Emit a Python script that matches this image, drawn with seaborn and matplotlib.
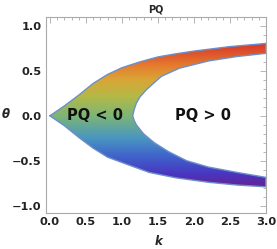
import numpy as np
import pandas as pd
import matplotlib
matplotlib.use("Agg")
import matplotlib.pyplot as plt
import seaborn as sns
from matplotlib.path import Path
from matplotlib.patches import PathPatch
from matplotlib.colors import LinearSegmentedColormap
from matplotlib.ticker import MultipleLocator

# Boundary of the PQ < 0 region
k_outer_up = [0.0, 0.2, 0.4, 0.6, 0.8, 1.0, 1.25, 1.5, 1.75, 2.0, 2.5, 3.0]
th_outer_up = [0.0, 0.11, 0.23, 0.36, 0.46, 0.535, 0.60, 0.655, 0.69, 0.72, 0.77, 0.805]
k_inner_up = [1.15, 1.17, 1.2, 1.25, 1.34, 1.45, 1.55, 1.8, 2.2, 2.6, 3.0]
th_inner_up = [0.0, 0.07, 0.14, 0.21, 0.29, 0.37, 0.44, 0.53, 0.61, 0.66, 0.695]
k_inner_lo = [1.15, 1.17, 1.2, 1.3, 1.45, 1.65, 1.9, 2.2, 2.6, 3.0]
th_inner_lo = [0.0, -0.05, -0.1, -0.2, -0.3, -0.4, -0.5, -0.57, -0.63, -0.685]
k_outer_lo = [0.0, 0.2, 0.4, 0.6, 0.8, 1.07, 1.38, 1.75, 2.21, 2.6, 3.0]
th_outer_lo = [0.0, -0.11, -0.24, -0.36, -0.46, -0.54, -0.63, -0.69, -0.74, -0.77, -0.79]

title = "PQ"
label_neg = "PQ < 0"
label_pos = "PQ > 0"
xticks = [0.0, 0.5, 1.0, 1.5, 2.0, 2.5, 3.0]
yticks = [-1.0, -0.5, 0.0, 0.5, 1.0]

sns.set_style("white")
plt.rcParams['font.family'] = ['DejaVu Sans']

fig = plt.figure(figsize=(2.77, 2.49), dpi=100)
ax = fig.add_axes([0.166, 0.145, 0.794, 0.787])

# polygon boundary
bx = (k_outer_up + [k_inner_up[-1]] + k_inner_up[::-1] + k_inner_lo[1:] +
      [k_outer_lo[-1]] + k_outer_lo[::-1])
by = (th_outer_up + [th_inner_up[-1]] + th_inner_up[::-1] + th_inner_lo[1:] +
      [th_outer_lo[-1]] + th_outer_lo[::-1])
verts = np.column_stack([bx, by])
path = Path(verts, closed=False)
patch = PathPatch(path, facecolor='none', edgecolor='none')
ax.add_patch(patch)

cols = [(0.0, '#6b1f8c'), (0.10, '#4a35c0'), (0.22, '#3f62cc'),
        (0.35, '#4a96c0'), (0.50, '#7cb578'), (0.63, '#b2b948'),
        (0.75, '#d9a636'), (0.84, '#e57f2e'), (1.0, '#d9342a')]
cmap = LinearSegmentedColormap.from_list('rb', cols)
grad = np.linspace(0, 1, 256).reshape(-1, 1)
im = ax.imshow(grad, cmap=cmap, origin='lower', aspect='auto',
               extent=[0, 3.0, -0.81, 0.81], interpolation='bilinear', zorder=1)
im.set_clip_path(patch)

df = pd.DataFrame({'k': bx, 'theta': by})
sns.lineplot(data=df, x='k', y='theta', sort=False, estimator=None,
             color='#6d8fc9', lw=1.0, ax=ax, zorder=2)

ax.set_xlim(-0.055, 3.0)
ax.set_ylim(-1.08, 1.1)
ax.set_xticks(xticks)
ax.set_yticks(yticks)
ax.set_xticklabels([f"{t:.1f}" for t in xticks])
ax.set_yticklabels([f"{t:.1f}".replace('-', '\u2212') for t in yticks])
ax.xaxis.set_minor_locator(MultipleLocator(0.1))
ax.yaxis.set_minor_locator(MultipleLocator(0.1))
ax.tick_params(which='both', direction='in', top=True, right=True,
               color='#aaaaaa', width=0.6)
ax.tick_params(which='major', length=4, labelsize=8.2, labelcolor='#222222', pad=3)
ax.tick_params(which='minor', length=2)
for lab in ax.get_xticklabels() + ax.get_yticklabels():
    lab.set_fontweight('bold')
for s in ax.spines.values():
    s.set_color('#aaaaaa')
    s.set_linewidth(0.8)

ax.set_xlabel('k', fontsize=8.5, fontweight='bold', fontstyle='italic')
ax.xaxis.set_label_coords(0.51, -0.148)
ax.xaxis.label.set_va('center')
ax.set_ylabel('θ', fontsize=8.5, fontweight='bold', fontstyle='italic', rotation=0)
ax.yaxis.set_label_coords(-0.183, 0.5)
ax.yaxis.label.set_ha('center')
ax.yaxis.label.set_va('center')
ax.set_title(title, fontsize=7, fontweight='bold', pad=3)

ax.text(0.62, 0.0, label_neg, fontsize=10.5, fontweight='bold', ha='center', va='center', color='#111111', zorder=3)
ax.text(2.13, 0.0, label_pos, fontsize=10.5, fontweight='bold', ha='center', va='center', color='#111111', zorder=3)

fig.savefig('out.png', dpi=100)
